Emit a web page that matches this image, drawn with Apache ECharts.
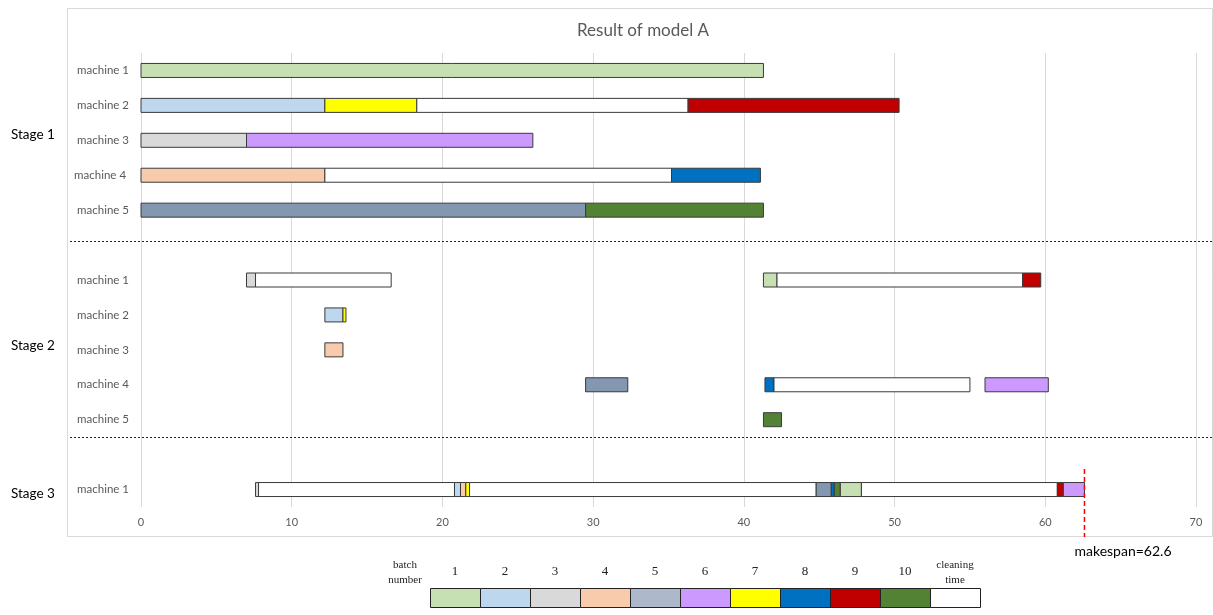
<!DOCTYPE html>
<html><head><meta charset="utf-8">
<script src="https://cdn.jsdelivr.net/npm/echarts@6/dist/echarts.min.js"></script>
<style>html,body{margin:0;padding:0;background:#fff;}#c{width:1213px;height:615px;}</style>
</head><body><div id="c"></div>
<script>
// ---- data ----
const title = 'Result of model A';
const categories = ['machine 1','machine 2','machine 3','machine 4 ','machine 5','',
                    'machine 1','machine 2','machine 3','machine 4','machine 5','',
                    'machine 1'];
const xTicks = [0,10,20,30,40,50,60,70];
// [machine, start, end, batch]  (batch 0 = cleaning time)
const stage1Tasks = [
  [1,0,41.3,1],
  [2,0,12.2,2],[2,12.2,18.3,7],[2,18.3,36.3,0],[2,36.3,50.3,9],
  [3,0,7.0,3],[3,7.0,26.0,6],
  [4,0,12.2,4],[4,12.2,35.2,0],[4,35.2,41.1,8],
  [5,0,29.5,5],[5,29.5,41.3,10]
];
const stage2Tasks = [
  [1,7.0,7.6,3],[1,7.6,16.6,0],[1,41.3,42.2,1],[1,42.2,58.5,0],[1,58.5,59.7,9],
  [2,12.2,13.4,2],[2,13.4,13.6,7],
  [3,12.2,13.4,4],
  [4,29.5,32.3,5],[4,41.4,42.0,8],[4,42.0,55.0,0],[4,56.0,60.2,6],
  [5,41.3,42.5,10]
];
const stage3Tasks = [
  [1,7.6,7.8,3],[1,7.8,20.8,0],[1,20.8,21.2,2],[1,21.2,21.55,4],[1,21.55,21.8,7],
  [1,21.8,44.8,0],[1,44.8,45.8,5],[1,45.8,46.0,8],[1,46.0,46.4,10],[1,46.4,47.8,1],
  [1,47.8,60.8,0],[1,60.8,61.2,9],[1,61.2,62.6,6]
];
const stageNames = ['Stage 1','Stage 2','Stage 3'];
const makespan = 62.6;
const batchLabels = ['1','2','3','4','5','6','7','8','9','10'];
const batchColors = ['#FFFFFF','#C6E0B4','#BDD7EE','#D9D9D9','#F8CBAD','#8497B0','#CC99FF','#FFFF00','#0070C0','#C00000','#548235'];
const legendColors = ['#C6E0B4','#BDD7EE','#D9D9D9','#F8CBAD','#ADB9CA','#CC99FF','#FFFF00','#0070C0','#C00000','#548235','#FFFFFF'];

// ---- build ----
const stageOffsets = [0, 6, 12];
const data = [];
[stage1Tasks, stage2Tasks, stage3Tasks].forEach((arr, s) => {
  arr.forEach(t => data.push([stageOffsets[s] + t[0] - 1, t[1], t[2], t[3]]));
});

const chart = echarts.init(document.getElementById('c'));
const font = 'Lato, "Open Sans", sans-serif';
const option = {
  animation: false,
  backgroundColor: '#fff',
  title: { text: title, left: 572, top: 17,
    textStyle: { fontSize: 17, fontWeight: 'normal', color: '#595959', fontFamily: font } },
  grid: { left: 141, right: 17, top: 53, bottom: 108 },
  xAxis: { type: 'value', min: 0, max: 70, interval: 10,
    axisLine: { show: false }, axisTick: { show: false },
    axisLabel: { color: '#595959', fontSize: 11, fontFamily: font, margin: 10 },
    splitLine: { lineStyle: { color: '#D9D9D9' } } },
  yAxis: { type: 'category', data: categories, inverse: true,
    axisLine: { show: false }, axisTick: { show: false }, splitLine: { show: false },
    axisLabel: { color: '#595959', fontSize: 11.5, fontFamily: font, margin: 12 } },
  series: [{
    type: 'custom',
    encode: { x: [1, 2], y: 0 },
    data: data,
    renderItem: function (params, api) {
      const row = api.value(0);
      const a = api.coord([api.value(1), row]);
      const b = api.coord([api.value(2), row]);
      const h = 14;
      return { type: 'rect',
        shape: { x: a[0], y: a[1] - h / 2, width: b[0] - a[0], height: h },
        style: { fill: batchColors[api.value(3)], stroke: '#3a3a3a', lineWidth: 1 } };
    }
  }]
};
chart.setOption(option);

// decorations
const g = [];
g.push({ type: 'rect', shape: { x: 67.5, y: 8.5, width: 1145, height: 528 }, style: { fill: null, stroke: '#D9D9D9', lineWidth: 1 }, z: -1 });
[241.5, 437.5].forEach(y => g.push({ type: 'line', shape: { x1: 70, y1: y, x2: 1213, y2: y }, style: { stroke: '#222', lineWidth: 1, lineDash: [2, 2] } }));
const stageY = [135, 346, 494];
stageNames.forEach((s, i) => g.push({ type: 'text', x: 11, y: stageY[i], style: { text: s, fill: '#000', font: '13.5px ' + font, textVerticalAlign: 'middle' } }));
const mx = chart.convertToPixel({ xAxisIndex: 0 }, makespan);
g.push({ type: 'line', shape: { x1: mx, y1: 469, x2: mx, y2: 537 }, style: { stroke: '#FF0000', lineWidth: 1.5, lineDash: [5, 3] }, z: 10 });
g.push({ type: 'text', x: 1123, y: 551, style: { text: 'makespan=' + makespan, fill: '#000', font: '14px ' + font, textAlign: 'center', textVerticalAlign: 'middle' } });
// batch legend
const lx = 430, ly = 588, lw = 50, lh = 19;
const serif = '"Liberation Serif", "DejaVu Serif", serif';
legendColors.forEach((c, i) => {
  g.push({ type: 'rect', shape: { x: lx + i * lw + 0.5, y: ly + 0.5, width: lw, height: lh }, style: { fill: c, stroke: '#222', lineWidth: 1 } });
});
batchLabels.forEach((t, i) => g.push({ type: 'text', x: lx + i * lw + lw / 2, y: 572, style: { text: t, fill: '#222', font: '13px ' + serif, textAlign: 'center', textVerticalAlign: 'middle' } }));
g.push({ type: 'text', x: 405, y: 573, style: { text: 'batch\nnumber', fill: '#222', font: '11px ' + serif, textAlign: 'center', textVerticalAlign: 'middle', lineHeight: 15 } });
g.push({ type: 'text', x: lx + 10 * lw + lw / 2, y: 573, style: { text: 'cleaning\ntime', fill: '#222', font: '11px ' + serif, textAlign: 'center', textVerticalAlign: 'middle', lineHeight: 15 } });
chart.setOption({ graphic: g });
</script></body></html>
